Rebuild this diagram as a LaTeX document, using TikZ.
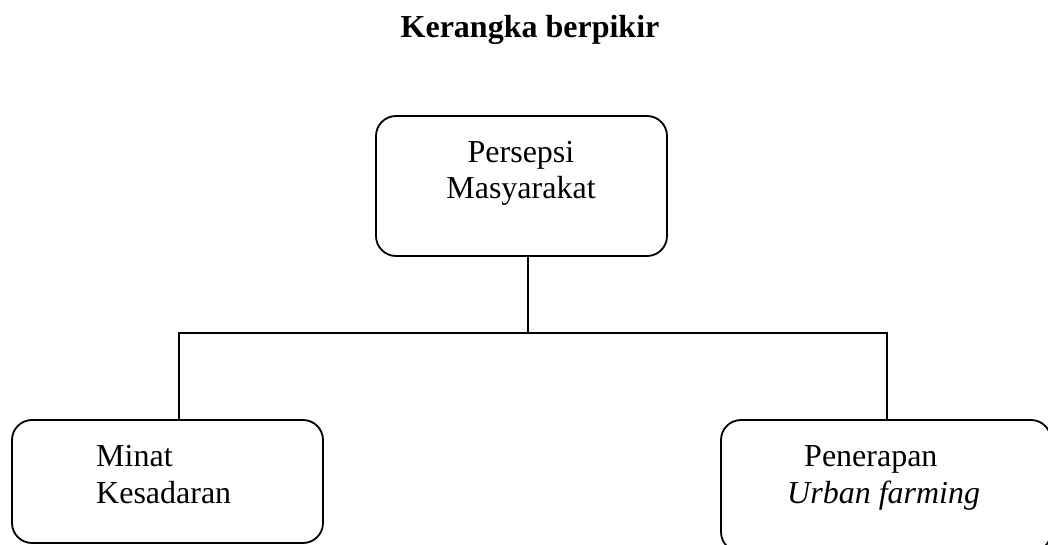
\documentclass[tikz,border=0pt]{standalone}
\usepackage{fontspec}
\setmainfont{Liberation Serif}
\begin{document}
\begin{tikzpicture}[x=1pt,y=-1pt,
  box/.style={draw,line width=1.8pt,rounded corners=20pt,inner sep=0pt,outer sep=0pt},
  txt/.style={anchor=base west,inner sep=0pt,font=\fontsize{32}{37}\selectfont},
  ctxt/.style={anchor=base,inner sep=0pt,font=\fontsize{32}{37}\selectfont},
  conn/.style={line width=1.8pt}]
\clip (0,0) rectangle (1048,545);
\node[ctxt,font=\fontsize{32}{37}\selectfont\bfseries] (title) at (530,38) {Kerangka berpikir};
% boxes
\node[box,minimum width=291pt,minimum height=140pt] (top) at (521.5,186) {};
\node[box,minimum width=311pt,minimum height=123pt] (left) at (167.5,481.5) {};
\node[box,minimum width=330pt,minimum height=132pt] (right) at (886,486) {};
% texts
\node[ctxt] (t1) at (521,163) {Persepsi};
\node[ctxt] (t2) at (521,199) {Masyarakat};
\node[txt] (l1) at (96,466) {Minat};
\node[txt] (l2) at (96,503) {Kesadaran};
\node[txt] (r1) at (804,466) {Penerapan};
\node[txt] (r2) at (787,503) {\itshape Urban farming};
% connectors
\coordinate (j) at (528,333);
\coordinate (jl) at (179,333);
\coordinate (jr) at (887,333);
\draw[conn] (j |- top.south) -- (j);
\draw[conn,line cap=rect] (jl) -- (jr);
\draw[conn] (jl) -- (jl |- left.north);
\draw[conn] (jr) -- (jr |- right.north);
\end{tikzpicture}
\end{document}
